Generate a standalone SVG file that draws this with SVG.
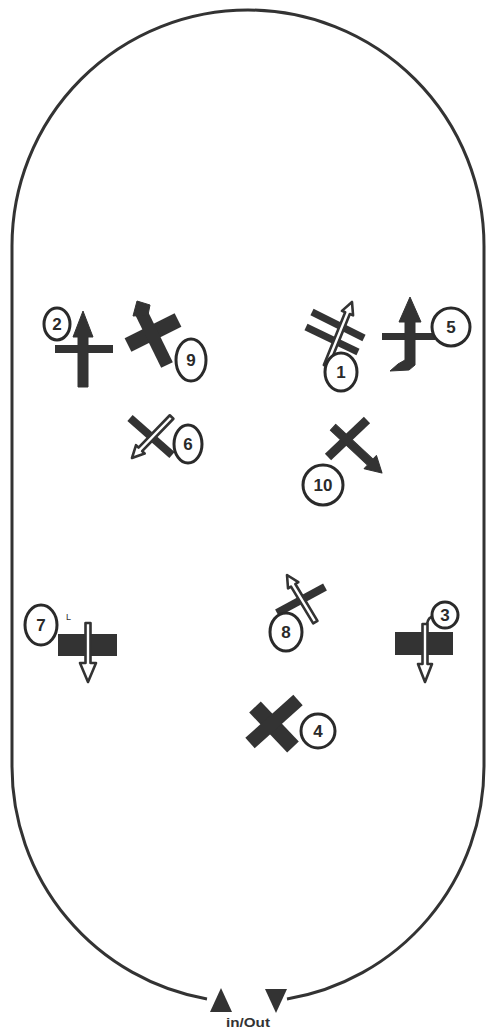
<svg xmlns="http://www.w3.org/2000/svg" width="486" height="1034" viewBox="0 0 486 1034">
<style>
.ring{fill:#fff;stroke:#2a2a2a;stroke-width:3}
.num{font-family:"Liberation Sans",Arial,sans-serif;font-size:17px;font-weight:bold;fill:#2a2a2a;text-anchor:middle}
.bar{stroke:#333;stroke-linecap:butt;fill:none}
.dark{fill:#333;stroke:#333;stroke-width:1;stroke-linejoin:round}
.white{fill:#fff;stroke:#333;stroke-width:2.6;stroke-linejoin:round}
</style>
<rect width="486" height="1034" fill="#fff"/>
<g id="arena">
<path d="M207,999 A236,236 0 0 1 12,766 L12,246 A236,236 0 0 1 484,246 L484,766 A236,236 0 0 1 287,999" fill="none" stroke="#333" stroke-width="3"/>
</g>
<g id="entrance">
<polygon points="221,988 210,1012 232,1012" fill="#333"/>
<polygon points="265,989 287,989 276,1013" fill="#333"/>
<text x="248" y="1027" font-family="Liberation Sans,Arial,sans-serif" font-size="12" font-weight="bold" fill="#333" text-anchor="middle" textLength="44" lengthAdjust="spacingAndGlyphs">in/Out</text>
</g>
<g id="jump1">
<line class="bar" x1="312" y1="312" x2="364" y2="338" stroke-width="7"/>
<line class="bar" x1="306" y1="327" x2="358" y2="352" stroke-width="7"/>
<polygon class="white" transform="translate(352,302) rotate(22)" points="0,0 6,12 2.5,12 2.5,69 -2.5,69 -2.5,12 -6,12"/>
<ellipse class="ring" cx="341" cy="372" rx="16" ry="19"/>
<text class="num" x="341" y="378">1</text>
</g>
<g id="jump2">
<rect x="55" y="345" width="58" height="8" fill="#333"/>
<polygon class="dark" points="83,311 93,337 88,337 88,387 78,387 78,337 73,337"/>
<ellipse class="ring" cx="57" cy="324" rx="13" ry="16"/>
<text class="num" x="57" y="330" font-size="15">2</text>
</g>
<g id="jump3">
<rect x="395" y="632" width="58" height="23" fill="#333"/>
<polygon class="white" transform="translate(425,682) rotate(180)" points="0,0 7,18 2.5,18 2.5,58 -2.5,58 -2.5,18 -7,18"/>
<path d="M427,624 Q428,617 434,616" fill="none" stroke="#333" stroke-width="2.5"/>
<ellipse class="ring" cx="445" cy="615" rx="13" ry="13"/>
<text class="num" x="445" y="621" font-size="15">3</text>
</g>
<g id="jump4">
<line class="bar" x1="255" y1="707" x2="293" y2="747" stroke-width="16"/>
<line class="bar" x1="298" y1="700" x2="250" y2="743" stroke-width="14"/>
<ellipse class="ring" cx="318" cy="731" rx="17" ry="17"/>
<text class="num" x="318" y="737">4</text>
</g>
<g id="jump5">
<rect x="382" y="333" width="53" height="7" fill="#333"/>
<polygon class="dark" points="410,297 421,322 415,322 415,365 409,370 390,371 398,364 405,360 405,322 399,322"/>
<ellipse class="ring" cx="451" cy="327" rx="19" ry="19"/>
<text class="num" x="451" y="333">5</text>
</g>
<g id="jump6">
<line class="bar" x1="130" y1="418" x2="172" y2="455" stroke-width="8"/>
<polygon class="white" transform="translate(132,458) rotate(-136)" points="0,0 6,12 2.5,12 2.5,57 -2.5,57 -2.5,12 -6,12"/>
<ellipse class="ring" cx="188" cy="444" rx="14" ry="19"/>
<text class="num" x="188" y="450">6</text>
</g>
<g id="jump7">
<rect x="58" y="634" width="59" height="22" fill="#333"/>
<polygon class="white" transform="translate(88,682) rotate(180)" points="0,0 8,19 2.5,19 2.5,59 -2.5,59 -2.5,19 -8,19"/>
<ellipse class="ring" cx="41" cy="625" rx="16" ry="20"/>
<text class="num" x="41" y="631">7</text>
<text x="66" y="620" font-family="Liberation Sans,Arial,sans-serif" font-size="9" fill="#333">L</text>
</g>
<g id="jump8">
<line class="bar" x1="325" y1="587" x2="277" y2="613" stroke-width="8"/>
<polygon class="white" transform="translate(287,575) rotate(-31)" points="0,0 6,12 2.5,12 2.5,55 -2.5,55 -2.5,12 -6,12"/>
<ellipse class="ring" cx="286" cy="632" rx="16" ry="19"/>
<text class="num" x="286" y="638">8</text>
</g>
<g id="jump9">
<line class="bar" x1="128" y1="345" x2="178" y2="320" stroke-width="15"/>
<line class="bar" x1="140" y1="310" x2="167" y2="365" stroke-width="13"/>
<polygon class="dark" points="133,316 137,301 150,305 148,315"/>
<ellipse class="ring" cx="191" cy="360" rx="15" ry="21"/>
<text class="num" x="191" y="366">9</text>
</g>
<g id="jump10">
<line class="bar" x1="367" y1="420" x2="328" y2="457" stroke-width="9"/>
<polygon class="dark" transform="translate(382,473) rotate(133)" points="0,0 9,16 4,16 4,67 -4,67 -4,16 -9,16"/>
<ellipse class="ring" cx="323" cy="485" rx="20" ry="20"/>
<text class="num" x="323" y="491">10</text>
</g>
</svg>
